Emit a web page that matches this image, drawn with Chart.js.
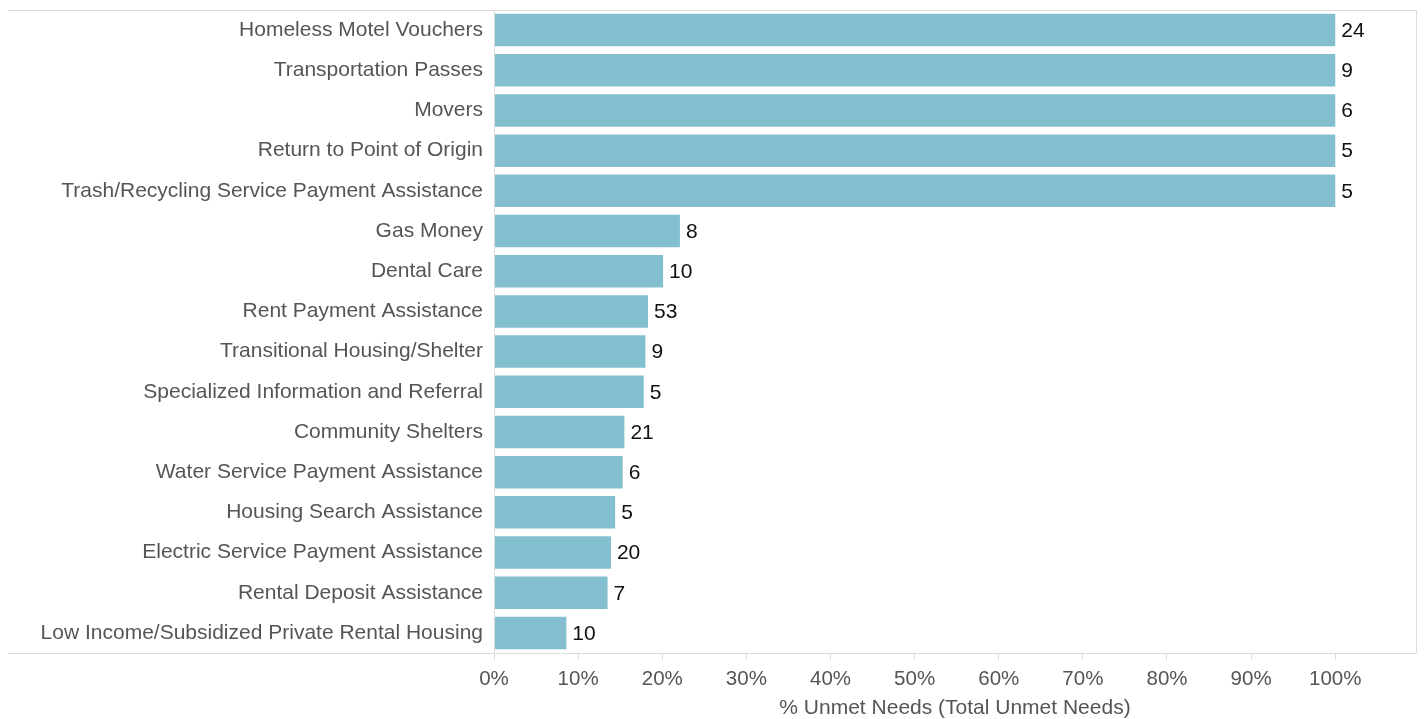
<!DOCTYPE html>
<html>
<head>
<meta charset="utf-8">
<script src="https://cdn.jsdelivr.net/npm/chart.js@4.4.0/dist/chart.umd.min.js"></script>
<style>
  html, body { margin: 0; padding: 0; background: #fff; }
  #wrap { width: 1426px; height: 719px; position: relative; }
</style>
</head>
<body>
<div id="wrap"><canvas id="unmetChart"></canvas></div>
<script>
// Unmet needs by service type
const categories = [
    'Homeless Motel Vouchers',
    'Transportation Passes',
    'Movers',
    'Return to Point of Origin',
    'Trash/Recycling Service Payment Assistance',
    'Gas Money',
    'Dental Care',
    'Rent Payment Assistance',
    'Transitional Housing/Shelter',
    'Specialized Information and Referral',
    'Community Shelters',
    'Water Service Payment Assistance',
    'Housing Search Assistance',
    'Electric Service Payment Assistance',
    'Rental Deposit Assistance',
    'Low Income/Subsidized Private Rental Housing'
];
const pctUnmet = [100, 100, 100, 100, 100, 22.1, 20.1, 18.3, 18.0, 17.8, 15.5, 15.3, 14.4, 13.9, 13.5, 8.6];
const totalUnmet = [24, 9, 6, 5, 5, 8, 10, 53, 9, 5, 21, 6, 5, 20, 7, 10];
const xTicks = [0, 10, 20, 30, 40, 50, 60, 70, 80, 90, 100];

const FONT = '"Liberation Sans", Arial, Helvetica, sans-serif';
const BAR_COLOR = '#84bfd0';
const LINE_COLOR = '#dcdcdc';

// frame lines (top / bottom rule extend under the labels, right border)
const framePlugin = {
    id: 'frame',
    afterDraw(chart) {
        const { ctx, chartArea } = chart;
        ctx.save();
        ctx.strokeStyle = LINE_COLOR;
        ctx.lineWidth = 1;
        ctx.beginPath();
        ctx.moveTo(8, chartArea.top + 0.5);
        ctx.lineTo(chartArea.right, chartArea.top + 0.5);
        ctx.moveTo(chartArea.right + 0.5, chartArea.top);
        ctx.lineTo(chartArea.right + 0.5, chartArea.bottom);
        ctx.moveTo(8, chartArea.bottom + 0.5);
        ctx.lineTo(chartArea.right, chartArea.bottom + 0.5);
        ctx.moveTo(chartArea.left + 0.5, chartArea.top);
        ctx.lineTo(chartArea.left + 0.5, chartArea.bottom + 7);
        ctx.stroke();
        ctx.restore();
    }
};

// count labels at the end of each bar
const valueLabels = {
    id: 'valueLabels',
    afterDatasetsDraw(chart) {
        const { ctx } = chart;
        const meta = chart.getDatasetMeta(0);
        ctx.save();
        ctx.font = '21px ' + FONT;
        ctx.fillStyle = '#111';
        ctx.textAlign = 'left';
        ctx.textBaseline = 'middle';
        meta.data.forEach((bar, i) => {
            ctx.fillText(String(totalUnmet[i]), bar.x + 6, bar.y + 1);
        });
        ctx.restore();
    }
};

const ctx = document.getElementById('unmetChart');
const chart = new Chart(ctx, {
    type: 'bar',
    data: {
        labels: categories,
        datasets: [{
            label: '% Unmet Needs',
            data: pctUnmet,
            backgroundColor: BAR_COLOR,
            borderWidth: 0,
            barPercentage: 0.81,
            categoryPercentage: 1
        }]
    },
    options: {
        indexAxis: 'y',
        responsive: true,
        maintainAspectRatio: false,
        animation: false,
        layout: { padding: { top: 10, right: 10, left: 0, bottom: 0 } },
        plugins: {
            legend: { display: false },
            title: { display: false },
            tooltip: { enabled: false }
        },
        scales: {
            x: {
                position: 'bottom',
                min: 0,
                max: 109.6,
                afterBuildTicks: (scale) => {
                    scale.ticks = xTicks.map(v => ({ value: v }));
                },
                afterFit: (scale) => {
                    scale.height = 66;
                    scale.paddingLeft = 0;
                    scale.paddingRight = 0;
                },
                grid: {
                    drawOnChartArea: false,
                    drawTicks: true,
                    tickLength: 7,
                    color: LINE_COLOR
                },
                border: { display: false },
                ticks: {
                    padding: 7,
                    maxRotation: 0,
                    color: '#555',
                    font: { family: FONT, size: 20.5 },
                    callback: (v) => v + '%'
                },
                title: {
                    display: true,
                    text: '% Unmet Needs (Total Unmet Needs)',
                    color: '#555',
                    font: { family: FONT, size: 21, lineHeight: 1 },
                    padding: { top: 0, bottom: 0 }
                }
            },
            y: {
                afterFit: (scale) => {
                    scale.width = 494;
                    scale.paddingTop = 0;
                    scale.paddingBottom = 0;
                },
                grid: { display: false, drawTicks: false },
                border: { display: false },
                ticks: {
                    padding: 11,
                    autoSkip: false,
                    color: '#555',
                    font: { family: FONT, size: 21 }
                }
            }
        }
    },
    plugins: [framePlugin, valueLabels]
});
</script>
</body>
</html>
